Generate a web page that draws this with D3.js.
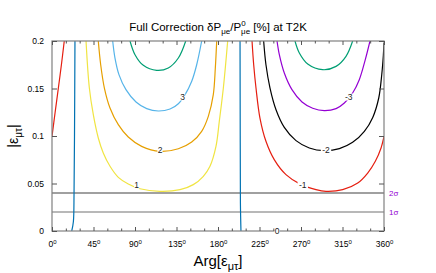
<!DOCTYPE html>
<html>
<head>
<meta charset="utf-8">
<script src="https://cdn.jsdelivr.net/npm/d3@7/dist/d3.min.js"></script>
<style>
  body { margin: 0; background: #fff; }
  svg { font-family: "Liberation Sans", Arial, sans-serif; }
</style>
</head>
<body>
<div id="chart"></div>
<script>
(function(){
  'use strict';

  // contour lines, [phase in degrees, |eps|]
  var cP1 = [[36.9,0.2],[40.5,0.1505],[44.8,0.1224],[50.2,0.0979],[55.6,0.0821],[62.9,0.0681],[71.9,0.0565],[82.7,0.0495],[95.4,0.0445],[117.1,0.0418],[138.8,0.0435],[153.2,0.0488],[164.1,0.0576],[171.3,0.0681],[177.8,0.089],[181.4,0.1154],[185.8,0.1505],[190.5,0.2]],
      cP2 = [[50.2,0.2],[52.8,0.175],[56.8,0.1505],[62.9,0.1295],[71.9,0.1119],[82.7,0.0989],[97.2,0.0891],[117.1,0.0839],[137,0.0866],[151.5,0.0937],[162.3,0.1049],[169.5,0.1207],[174.9,0.1435],[177.1,0.1716],[178.6,0.2]],
      cP3 = [[65.8,0.2],[68.3,0.182],[72.6,0.1646],[80.2,0.1488],[91.1,0.1358],[102.7,0.1288],[115.3,0.1263],[128,0.1284],[137,0.134],[144.3,0.1435],[151.5,0.1576],[156.9,0.175],[162.3,0.2]],
      cP4 = [[84.6,0.2],[90,0.1856],[99,0.1744],[113.5,0.1691],[126.1,0.1716],[137,0.1821],[145,0.2]],
      cM1a = [[0,0.0995],[3.4,0.125],[6.9,0.1505],[10.2,0.175],[13.3,0.2]],
      cM1b = [[216.9,0.2],[218.7,0.175],[221.2,0.1505],[225.5,0.1189],[232,0.0944],[241,0.0751],[253.7,0.0593],[270,0.0488],[286.3,0.0435],[297.1,0.0418],[315.2,0.0435],[331.5,0.0505],[342.3,0.061],[350.6,0.0734],[356.8,0.0874],[360,0.0995]],
      cM2 = [[229.5,0.2],[232,0.175],[236.4,0.1505],[242.9,0.1277],[251.9,0.1091],[264.6,0.0951],[279,0.0874],[295.3,0.0846],[311.6,0.0867],[326,0.0933],[338.7,0.1049],[347.8,0.1196],[354.3,0.14],[357.6,0.165],[359.3,0.185],[360,0.198]],
      cM3 = [[244,0.2],[246.5,0.1856],[251.9,0.1663],[260.2,0.1488],[271.1,0.1358],[282.7,0.1292],[295.3,0.1267],[308,0.1288],[317,0.1347],[326,0.1453],[333.2,0.1593],[339.7,0.1804],[344.8,0.2]],
      cM4 = [[263.5,0.2],[268.2,0.1874],[277.3,0.1758],[293.5,0.1698],[308,0.1733],[318.8,0.1839],[326,0.2]],
      cZa = [[24.9,0.2],[24.4,0.1],[23.9,0.04],[23.2,0.01],[21.4,0]],
      cZb = [[203.9,0.2],[204.1,0.1],[204.3,0.03],[204.9,0]];

  var contours = [
    {pts: cP1, c: '#f0e442'}, {pts: cP2, c: '#e69f00'}, {pts: cP3, c: '#56b4e9'}, {pts: cP4, c: '#009e73'},
    {pts: cM1a, c: '#e51e10'}, {pts: cM1b, c: '#e51e10'}, {pts: cM2, c: '#000000'},
    {pts: cM3, c: '#9400d3'}, {pts: cM4, c: '#009e73'},
    {pts: cZa, c: '#0072b2'}, {pts: cZb, c: '#0072b2'}
  ];

  var labelText = ['1', '2', '3', '-1', '-2', '-3', '0'],
      labelPos = [[91.8,0.0481],[117.1,0.0856],[141.7,0.141],[271.9,0.0481],[297.1,0.0856],[321.7,0.141],[244,0]];

  var sigmaVals = [0.04, 0.02],
      sigmaText = ['2σ', '1σ'];

  var degMajor = [0,45,90,135,180,225,270,315,360],
      degMinor = [15,30,60,75,105,120,150,165,195,210,240,255,285,300,330,345],
      yTicks = [0, 0.05, 0.1, 0.15, 0.2],
      yTickText = ['0', '0.05', '0.1', '0.15', '0.2'];

  var w = 436, h = 273,
      svg = d3.select('#chart').append('svg')
        .attr('width', w)
        .attr('height', h);

  var x = d3.scaleLinear().domain([0, 360]).range([52, 384]),
      y = d3.scaleLinear().domain([0, 0.2]).range([231, 41]);

  svg.append('defs').append('clipPath').attr('id', 'clip')
    .append('rect')
    .attr('x', x(0)).attr('y', y(0.2))
    .attr('width', x(360) - x(0)).attr('height', y(0) - y(0.2));

  // sigma lines
  svg.selectAll('.sig')
    .data(sigmaVals)
    .enter()
    .append('line')
    .attr('x1', x(0)).attr('x2', x(360))
    .attr('y1', function(d) { return y(d); })
    .attr('y2', function(d) { return y(d); })
    .style('stroke', function(d, i) { return i === 0 ? '#808080' : '#a0a0a0'; })
    .style('stroke-width', 1.3);

  svg.selectAll('.sigtxt')
    .data(sigmaVals)
    .enter()
    .append('text')
    .attr('x', x(360) + 5)
    .attr('y', function(d) { return y(d) + 3; })
    .style('font-size', '8px')
    .style('fill', '#9400d3')
    .text(function(d, i) { return sigmaText[i]; });

  var line = d3.line()
    .x(function(d) { return x(d[0]); })
    .y(function(d) { return y(d[1]); })
    .curve(d3.curveCatmullRom.alpha(0.5));

  svg.append('g').attr('clip-path', 'url(#clip)')
    .selectAll('path')
    .data(contours)
    .enter()
    .append('path')
    .attr('d', function(d) { return line(d.pts); })
    .style('fill', 'none')
    .style('stroke', function(d) { return d.c; })
    .style('stroke-width', 1.2);

  // frame
  svg.append('rect')
    .attr('x', x(0)).attr('y', y(0.2))
    .attr('width', x(360) - x(0)).attr('height', y(0) - y(0.2))
    .style('fill', 'none')
    .style('stroke', '#808080')
    .style('stroke-width', 1.2);

  // contour labels
  var lab = svg.selectAll('.clab')
    .data(labelPos)
    .enter()
    .append('g')
    .attr('transform', function(d) { return 'translate(' + x(d[0]) + ',' + y(d[1]) + ')'; });
  lab.append('rect')
    .attr('x', function(d, i) { return -labelText[i].length * 2.6; })
    .attr('y', -3.5)
    .attr('width', function(d, i) { return labelText[i].length * 5.2; })
    .attr('height', 7)
    .style('fill', '#fff');
  lab.append('text')
    .attr('text-anchor', 'middle')
    .attr('dy', '0.35em')
    .style('font-size', '8.5px')
    .style('fill', '#222')
    .text(function(d, i) { return labelText[i]; });

  function styleAxis(g) {
    g.select('.domain').remove();
    g.selectAll('line').style('stroke', '#555');
    g.selectAll('text').style('font-size', '8.5px').style('fill', '#000').style('font-family', null);
  }

  var xAxis = svg.append('g')
    .attr('transform', 'translate(0,' + y(0) + ')')
    .call(d3.axisBottom(x).tickValues(degMajor).tickSize(-4).tickPadding(10))
    .call(styleAxis);
  xAxis.selectAll('text')
    .text(null)
    .each(function(d) {
      var t = d3.select(this);
      t.append('tspan').text(d);
      t.append('tspan').attr('dy', '-0.45em').style('font-size', '6px').text('0');
    });

  svg.append('g')
    .attr('transform', 'translate(0,' + y(0) + ')')
    .call(d3.axisBottom(x).tickValues(degMinor).tickSize(-2.5).tickFormat(''))
    .call(styleAxis);
  svg.append('g')
    .attr('transform', 'translate(0,' + y(0.2) + ')')
    .call(d3.axisTop(x).tickValues(degMajor).tickSize(-4).tickFormat(''))
    .call(styleAxis);
  svg.append('g')
    .attr('transform', 'translate(0,' + y(0.2) + ')')
    .call(d3.axisTop(x).tickValues(degMinor).tickSize(-2.5).tickFormat(''))
    .call(styleAxis);

  svg.append('g')
    .attr('transform', 'translate(' + x(0) + ',0)')
    .call(d3.axisLeft(y).tickValues(yTicks).tickSize(-5).tickPadding(8)
      .tickFormat(function(d, i) { return yTickText[i]; }))
    .call(styleAxis);
  svg.append('g')
    .attr('transform', 'translate(' + x(360) + ',0)')
    .call(d3.axisRight(y).tickValues(yTicks).tickSize(-5).tickFormat(''))
    .call(styleAxis);

  // title
  var title = svg.append('text')
    .attr('x', 218).attr('y', 31)
    .attr('text-anchor', 'middle')
    .style('font-size', '11.5px');
  title.append('tspan').text('Full Correction δP');
  title.append('tspan').attr('dy', 3).style('font-size', '8px').text('μe');
  title.append('tspan').attr('dy', -3).text('/P');
  title.append('tspan').attr('dy', -5).style('font-size', '8px').text('0');
  title.append('tspan').attr('dy', 8).attr('dx', -4.5).style('font-size', '8px').text('μe');
  title.append('tspan').attr('dy', -3).text(' [%] at T2K');

  // axis titles
  var xt = svg.append('text')
    .attr('x', 218).attr('y', 266)
    .attr('text-anchor', 'middle')
    .style('font-size', '15px');
  xt.append('tspan').text('Arg[ε');
  xt.append('tspan').attr('dy', 4).style('font-size', '11px').text('μτ');
  xt.append('tspan').attr('dy', -4).text(']');

  var yt = svg.append('text')
    .attr('transform', 'translate(18,136) rotate(-90)')
    .attr('text-anchor', 'middle')
    .style('font-size', '14px');
  yt.append('tspan').text('|ε');
  yt.append('tspan').attr('dy', 4).style('font-size', '10px').text('μτ');
  yt.append('tspan').attr('dy', -4).text('|');

}());
</script>
</body>
</html>
